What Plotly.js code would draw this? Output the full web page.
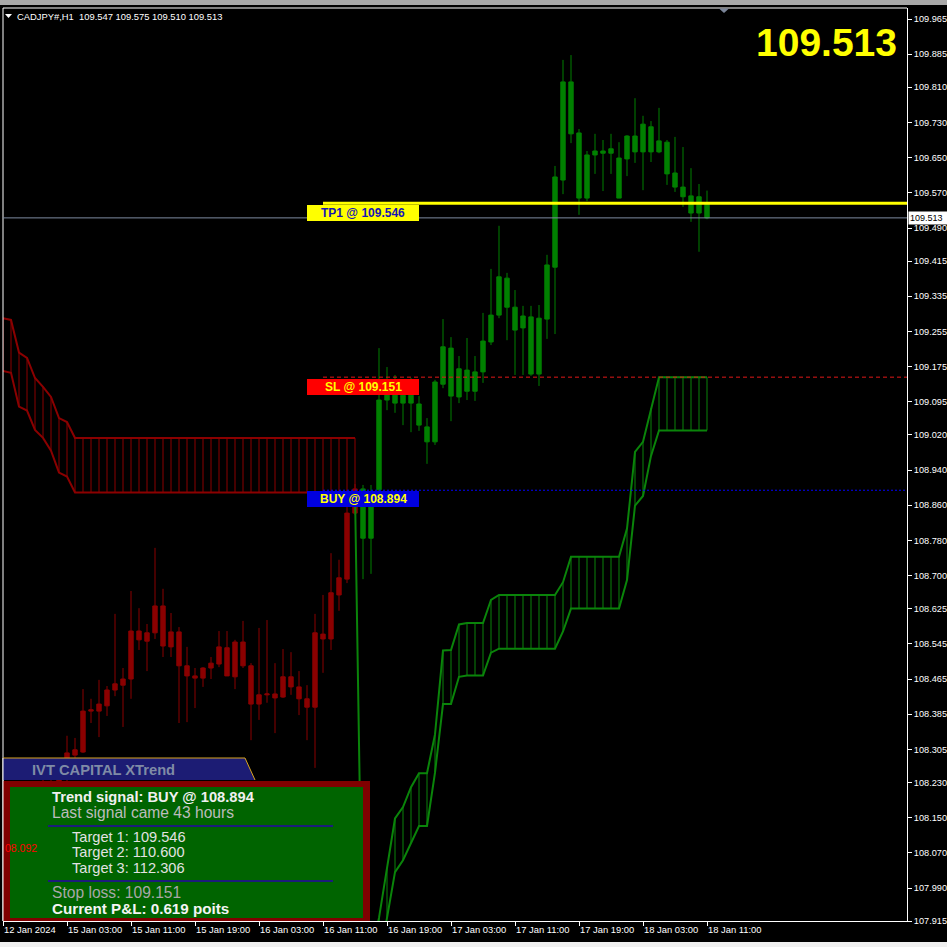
<!DOCTYPE html>
<html><head><meta charset="utf-8">
<script src="https://cdn.plot.ly/plotly-3.0.1.min.js"></script>
<style>html,body{margin:0;padding:0;background:#000;overflow:hidden}#chart{width:947px;height:947px}</style>
</head><body><div id="chart"></div>
<script>
// ---------------- DATA ----------------
const symbolTitle = "CADJPY#,H1";
const lastOHLC = [109.547, 109.575, 109.510, 109.513];
const bidPrice = 109.513;
const buyPrice = 108.894;
const slPrice = 109.151;
const tpPrices = [109.546, 110.600, 112.306];
const pnlPoints = 0.619;
const hoursSinceSignal = 43;
const sideMarkerText = "08.092";
const signalBar = 45;      // first bar of the up-trend
const levelStartBar = 40;  // bar where TP/SL/BUY lines begin

const barOpen = [108.180,108.160,108.130,108.150,108.190,108.170,108.220,108.210,108.240,108.292,
108.299,108.392,108.392,108.404,108.440,108.451,108.465,108.574,108.551,108.570,
108.631,108.538,108.572,108.495,108.472,108.467,108.490,108.499,108.536,108.470,
108.549,108.495,108.408,108.429,108.431,108.424,108.470,108.447,108.420,108.401,
108.567,108.556,108.656,108.692,108.842,108.897,108.785,108.895,109.099,109.115,
109.092,109.110,109.090,109.038,109.004,109.135,109.217,109.106,109.167,109.119,
109.163,109.231,109.292,109.376,109.310,109.263,109.288,109.158,109.283,109.401,
109.599,109.822,109.706,109.558,109.656,109.665,109.660,109.649,109.647,109.699,
109.663,109.720,109.663,109.685,109.615,109.583,109.563,109.524,109.547];
const barHigh = [108.220,108.190,108.170,108.210,108.230,108.240,108.260,108.250,108.336,108.331,
108.442,108.420,108.463,108.449,108.613,108.490,108.665,108.626,108.590,108.763,
108.670,108.615,108.583,108.538,108.490,108.492,108.515,108.574,108.574,108.554,
108.597,108.501,108.581,108.599,108.501,108.533,108.526,108.483,108.451,108.613,
108.656,108.751,108.736,108.856,108.908,108.906,108.906,109.217,109.174,109.156,
109.115,109.149,109.108,109.058,109.145,109.283,109.242,109.199,109.240,109.199,
109.297,109.397,109.495,109.388,109.349,109.313,109.313,109.315,109.429,109.631,
109.872,109.883,109.715,109.665,109.704,109.690,109.704,109.685,109.701,109.785,
109.745,109.733,109.763,109.690,109.697,109.674,109.626,109.590,109.575];
const barLow = [108.140,108.110,108.090,108.120,108.150,108.160,108.190,108.180,108.225,108.270,
108.297,108.365,108.333,108.381,108.426,108.356,108.420,108.531,108.483,108.556,
108.515,108.515,108.365,108.367,108.399,108.447,108.465,108.492,108.472,108.442,
108.490,108.326,108.372,108.411,108.342,108.422,108.429,108.383,108.326,108.263,
108.479,108.531,108.620,108.683,108.838,108.692,108.704,108.880,109.076,109.070,
109.042,109.026,109.029,108.954,108.997,109.126,109.051,109.092,109.099,109.097,
109.138,109.224,109.285,109.235,109.156,109.156,109.154,109.131,109.238,109.249,
109.567,109.683,109.520,109.551,109.613,109.574,109.613,109.558,109.608,109.638,
109.576,109.640,109.660,109.588,109.572,109.538,109.504,109.436,109.510];
const barClose = [108.160,108.130,108.150,108.190,108.170,108.220,108.210,108.240,108.297,108.304,
108.392,108.395,108.408,108.440,108.454,108.465,108.574,108.554,108.570,108.631,
108.540,108.572,108.495,108.472,108.467,108.490,108.501,108.538,108.472,108.549,
108.495,108.408,108.429,108.431,108.422,108.470,108.447,108.420,108.401,108.570,
108.556,108.661,108.695,108.842,108.897,108.785,108.856,109.099,109.115,109.092,
109.110,109.092,109.042,109.004,109.140,109.220,109.108,109.170,109.119,109.163,
109.233,109.292,109.379,109.310,109.258,109.290,109.158,109.285,109.406,109.606,
109.822,109.704,109.558,109.656,109.665,109.660,109.670,109.558,109.699,109.663,
109.726,109.663,109.688,109.613,109.583,109.561,109.524,109.561,109.513];

// down-trend cloud, bars 0..44
const redCloudUpper = [109.285,109.281,109.207,109.195,109.149,109.129,109.106,109.058,109.049,109.013,
109.013,109.013,109.013,109.013,109.013,109.013,109.013,109.013,109.013,109.013,
109.013,109.013,109.013,109.013,109.013,109.013,109.013,109.013,109.013,109.013,
109.013,109.013,109.013,109.013,109.013,109.013,109.013,109.013,109.013,109.013,
109.013,109.013,109.013,109.013,109.013];
const redCloudLower = [109.165,109.161,109.084,109.075,109.031,109.013,108.984,108.934,108.925,108.889,
108.889,108.889,108.889,108.889,108.889,108.889,108.889,108.889,108.889,108.889,
108.889,108.889,108.889,108.889,108.889,108.889,108.889,108.889,108.889,108.889,
108.889,108.889,108.889,108.889,108.889,108.889,108.889,108.889,108.889,108.889,
108.889,108.889,108.889,108.889,108.889];
// up-trend cloud, bars 44..88
const greenCloudUpper = [108.889,107.750,107.840,107.922,108.035,108.148,108.174,108.219,108.251,108.251,
108.339,108.530,108.531,108.589,108.592,108.592,108.592,108.645,108.656,108.656,
108.656,108.656,108.656,108.656,108.656,108.656,108.685,108.743,108.743,108.743,
108.743,108.743,108.743,108.743,108.807,108.981,109.004,109.081,109.151,109.151,
109.151,109.151,109.151,109.151,109.151];
const greenCloudLower = [null,107.650,107.730,107.815,107.922,108.026,108.053,108.092,108.131,108.131,
108.252,108.408,108.408,108.470,108.473,108.473,108.473,108.525,108.534,108.534,
108.534,108.534,108.534,108.534,108.534,108.534,108.573,108.625,108.625,108.625,
108.625,108.625,108.625,108.625,108.690,108.859,108.881,108.972,109.030,109.030,
109.030,109.030,109.030,109.030,109.030];
const greenCloudStartBar = 44;

const xTickBars = [0,8,16,24,32,40,48,56,64,72,80,88];
const xTickLabels = ["12 Jan 2024","15 Jan 03:00","15 Jan 11:00","15 Jan 19:00","16 Jan 03:00","16 Jan 11:00",
  "16 Jan 19:00","17 Jan 03:00","17 Jan 11:00","17 Jan 19:00","18 Jan 03:00","18 Jan 11:00"];
const yTickValues = [109.965,109.885,109.810,109.730,109.650,109.570,109.490,109.415,109.335,109.255,
  109.175,109.095,109.020,108.940,108.860,108.780,108.700,108.625,108.545,108.465,108.385,108.305,
  108.230,108.150,108.070,107.990,107.915];

// ---------------- BUILD ----------------
const FONT = "Liberation Sans, Arial, sans-serif";
const RED = "#8b0000", GREEN = "#0a840a";
const barIdx = barOpen.map((_, i) => i);
const redX = barIdx.filter(i => i < signalBar), greenX = barIdx.filter(i => i >= signalBar);
const pick = (arr, idx) => idx.map(i => arr[i]);
function candle(xs, col) {
  return {type:'candlestick', x:xs, open:pick(barOpen,xs), high:pick(barHigh,xs), low:pick(barLow,xs), close:pick(barClose,xs),
    increasing:{line:{color:col,width:1}, fillcolor:col}, decreasing:{line:{color:col,width:1}, fillcolor:col},
    whiskerwidth:0, hoverinfo:'skip', showlegend:false};
}
function hatch(xs, up, lo) {
  const x = [], y = [];
  xs.forEach((xi, k) => { if (up[k] == null || lo[k] == null) return; x.push(xi, xi, null); y.push(up[k], lo[k], null); });
  return {x, y};
}
const redCX = redCloudUpper.map((_, k) => k);
const greenCX = greenCloudUpper.map((_, k) => greenCloudStartBar + k);
const rh = hatch(redCX, redCloudUpper, redCloudLower);
const gh = hatch(greenCX, greenCloudUpper, greenCloudLower);
const line = (x, y, col, w) => ({type:'scatter', mode:'lines', x, y, line:{color:col, width:w}, hoverinfo:'skip', showlegend:false, connectgaps:false});

const traces = [
  line(rh.x, rh.y, RED, 1),
  line(redCX, redCloudUpper, RED, 2),
  line(redCX, redCloudLower, RED, 2),
  line(gh.x, gh.y, GREEN, 1),
  line(greenCX, greenCloudUpper, GREEN, 2),
  line(greenCX, greenCloudLower, GREEN, 2),
  candle(redX, RED),
  candle(greenX, "#008000")
];

// pixel -> paper helpers (plot area: x 3..907, y 8..921)
const PX = px => (px - 3) / 904;
const PY = py => (921 - py) / 913;
const rect = (x0, y0, x1, y1, fill, extra) => Object.assign({type:'rect', xref:'paper', yref:'paper', x0:PX(x0), x1:PX(x1), y0:PY(y1), y1:PY(y0), fillcolor:fill, line:{width:0}, layer:'above'}, extra||{});
const pathP = pts => 'M' + pts.map(p => PX(p[0]) + ',' + PY(p[1])).join(' L') + ' Z';

const shapes = [
  rect(0, 0, 947, 5, '#a8a8a8'),
  rect(0, 942, 947, 947, '#f0f0f0'),
  {type:'line', xref:'paper', yref:'paper', x0:0, x1:0, y0:0, y1:1, line:{color:'#ffffff', width:1}, layer:'above'},
  {type:'line', xref:'paper', yref:'paper', x0:0, x1:1, y0:1, y1:1, line:{color:'#ffffff', width:1}, layer:'above'},
  {type:'line', xref:'paper', yref:'y', x0:0, x1:1, y0:bidPrice, y1:bidPrice, line:{color:'#7d8ba0', width:1}, layer:'above'},
  {type:'line', xref:'x', yref:'y', x0:levelStartBar, x1:113, y0:tpPrices[0], y1:tpPrices[0], line:{color:'#ffff00', width:3}, layer:'above'},
  {type:'line', xref:'x', yref:'y', x0:levelStartBar, x1:113, y0:slPrice, y1:slPrice, line:{color:'#e01818', width:1, dash:'4px,3px'}, layer:'above'},
  {type:'line', xref:'x', yref:'y', x0:levelStartBar, x1:113, y0:buyPrice, y1:buyPrice, line:{color:'#0000ff', width:1, dash:'2px,2px'}, layer:'above'},
  rect(307, 205, 419, 221, '#ffff00'),
  rect(307, 379, 419, 395, '#ff0000'),
  rect(307, 491, 419, 507, '#0000e0'),
  // chart shift marker & header triangle
  {type:'path', xref:'paper', yref:'paper', path:pathP([[719,8.5],[729,8.5],[724,13]]), fillcolor:'#7a8498', line:{width:0}, layer:'above'},
  {type:'path', xref:'paper', yref:'paper', path:pathP([[5,14],[12,14],[8.5,18]]), fillcolor:'#ffffff', line:{width:0}, layer:'above'},
  // info panel
  {type:'path', xref:'paper', yref:'paper', path:pathP([[3,758],[245,758],[255,780],[3,780]]), fillcolor:'#1c1c74', line:{width:0}, layer:'above'},
  {type:'path', xref:'paper', yref:'paper', path:'M'+PX(3)+','+PY(758)+' L'+PX(245)+','+PY(758)+' L'+PX(255)+','+PY(780), line:{color:'#d9a520', width:1}, layer:'above'},
  rect(3, 781, 370, 921, '#800000'),
  rect(10, 787, 363, 918, '#006400'),
  {type:'line', xref:'paper', yref:'paper', x0:PX(48), x1:PX(333), y0:PY(826), y1:PY(826), line:{color:'#1c1c7c', width:2}, layer:'above'},
  {type:'line', xref:'paper', yref:'paper', x0:PX(48), x1:PX(333), y0:PY(881), y1:PY(881), line:{color:'#1c1c7c', width:2}, layer:'above'},
  {type:'line', xref:'paper', yref:'paper', x0:0, x1:0, y0:0, y1:PY(758), line:{color:'#ffffff', width:1}, layer:'above'}
];

function ann(px, py, text, size, color, opts) {
  return Object.assign({xref:'paper', yref:'paper', x:PX(px), y:PY(py), xanchor:'left', yanchor:'middle', text, showarrow:false,
    font:{family:FONT, size, color}, borderpad:0}, opts||{});
}
const annotations = [
  ann(16, 16, symbolTitle + '  ' + lastOHLC.map(v => v.toFixed(3)).join(' '), 9.4, '#ffffff'),
  ann(898, 43, '<b>' + bidPrice.toFixed(3) + '</b>', 39, '#ffff00', {xanchor:'right'}),
  ann(363, 213, '<b>TP1 @ ' + tpPrices[0].toFixed(3) + '</b>', 12, '#1414b4', {xanchor:'center'}),
  ann(363, 387, '<b>SL @ ' + slPrice.toFixed(3) + '</b>', 12, '#ffff00', {xanchor:'center'}),
  ann(363, 499, '<b>BUY @ ' + buyPrice.toFixed(3) + '</b>', 12, '#ffff00', {xanchor:'center'}),
  {xref:'paper', yref:'y', x:1, y:bidPrice, xanchor:'left', yanchor:'middle', xshift:1, text:bidPrice.toFixed(3), showarrow:false,
    bgcolor:'#ffffff', font:{family:FONT, size:9, color:'#000000'}, width:37, align:'left', borderpad:1},
  ann(31, 770, '<b>IVT CAPITAL XTrend</b>', 14.7, '#7f8ba6'),
  ann(51, 797, '<b>Trend signal: BUY @ ' + buyPrice.toFixed(3) + '</b>', 14.7, '#f0f0f0'),
  ann(51, 812, 'Last signal came ' + hoursSinceSignal + ' hours', 15.6, '#bcbcbc'),
  ann(71, 836.5, 'Target 1: ' + tpPrices[0].toFixed(3), 14.6, '#e2e2e2'),
  ann(71, 852, 'Target 2: ' + tpPrices[1].toFixed(3), 14.6, '#e2e2e2'),
  ann(71, 867.5, 'Target 3: ' + tpPrices[2].toFixed(3), 14.6, '#e2e2e2'),
  ann(51, 892, 'Stop loss: ' + slPrice.toFixed(3), 15.6, '#a8a8a8'),
  ann(51, 908, '<b>Current P&amp;L: ' + pnlPoints.toFixed(3) + ' poits</b>', 15.2, '#f4f4f4'),
  ann(4, 848, sideMarkerText, 10.5, '#ff0000')
];

const layout = {
  width:947, height:947, margin:{l:3, r:40, t:8, b:26, pad:0},
  paper_bgcolor:'#000000', plot_bgcolor:'#000000', showlegend:false,
  boxgap:0.45, boxgroupgap:0,
  xaxis:{range:[0,113], showgrid:false, zeroline:false, showline:true, linecolor:'#ffffff', linewidth:1,
    ticks:'outside', ticklen:4, tickcolor:'#ffffff', tickvals:xTickBars, ticktext:xTickLabels, tickangle:0,
    ticklabelposition:'outside right', tickfont:{family:FONT, size:9.4, color:'#ffffff'},
    rangeslider:{visible:false}, fixedrange:true},
  yaxis:{side:'right', range:[107.915, 109.990], showgrid:false, zeroline:false, showline:true, linecolor:'#ffffff', linewidth:1,
    ticks:'outside', ticklen:4, tickcolor:'#ffffff', tickvals:yTickValues, ticktext:yTickValues.map(v => v.toFixed(3)),
    tickfont:{family:FONT, size:9.2, color:'#ffffff'}, fixedrange:true},
  shapes, annotations
};
Plotly.newPlot('chart', traces, layout, {staticPlot:true, displayModeBar:false});
</script></body></html>
